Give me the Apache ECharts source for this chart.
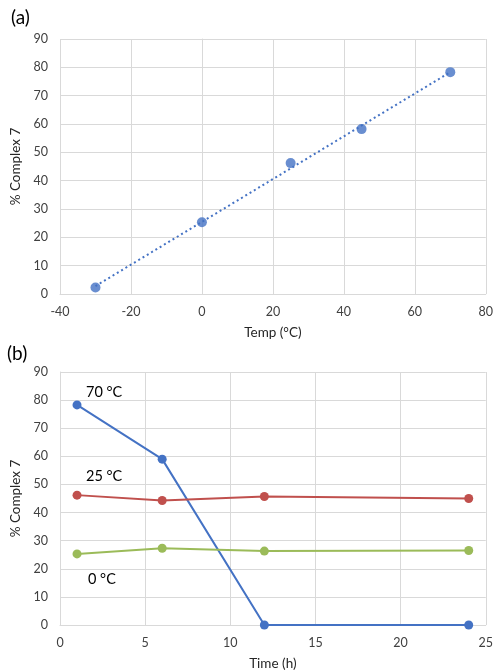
<!DOCTYPE html>
<html>
<head>
<meta charset="utf-8">
<script src="https://cdn.jsdelivr.net/npm/echarts@6/dist/echarts.min.js"></script>
<style>
html,body{margin:0;padding:0;background:#fff;}
#c{width:496px;height:672px;}
</style>
</head>
<body>
<div id="c"></div>
<script>
// Panel (a): % Complex 7 vs temperature
var tempC = [-30, 0, 25, 45, 70];
var complexVsTemp = [2.3, 25.3, 46.2, 58.2, 78.3];
var trendX = [-30, 70];
var trendY = [2.8, 78.3];

// Panel (b): % Complex 7 vs time
var timeH = [1, 6, 12, 24];
var series70 = [78.3, 59.0, 0, 0];
var series25 = [46.2, 44.3, 45.7, 45.0];
var series0 = [25.3, 27.3, 26.3, 26.5];
var seriesNames = ['70 °C', '25 °C', '0 °C'];

function pairs(xs, ys) { return xs.map(function (x, i) { return [x, ys[i]]; }); }

var FONT = 'Lato';
var tickStyle = { color: '#404040', fontSize: 12.5, fontFamily: FONT };
var titleStyle = { color: '#262626', fontSize: 13.5, fontFamily: FONT };
var gridLine = { show: true, lineStyle: { color: '#d9d9d9', width: 1 } };

function xAxis(idx, min, max, interval, name) {
  return {
    type: 'value', gridIndex: idx, min: min, max: max, interval: interval,
    name: name, nameLocation: 'middle', nameGap: 32, nameTextStyle: titleStyle,
    axisLine: { show: true, lineStyle: { color: '#d9d9d9' } },
    axisTick: { show: false }, axisLabel: Object.assign({ margin: 11 }, tickStyle),
    splitLine: gridLine
  };
}
function yAxis(idx) {
  return {
    type: 'value', gridIndex: idx, min: 0, max: 90, interval: 10,
    name: '% Complex 7', nameLocation: 'middle', nameGap: 32, nameTextStyle: titleStyle,
    axisLine: { show: true, lineStyle: { color: '#d9d9d9' } },
    axisTick: { show: false }, axisLabel: Object.assign({ margin: 12 }, tickStyle),
    splitLine: gridLine
  };
}

var chart = echarts.init(document.getElementById('c'));
chart.setOption({
  animation: false,
  backgroundColor: '#fff',
  grid: [
    { left: 60, top: 39, width: 429, height: 255 },
    { left: 60, top: 372, width: 428, height: 254 }
  ],
  xAxis: [xAxis(0, -40, 80, 20, 'Temp (°C)'), xAxis(1, 0, 25, 5, 'Time (h)')],
  yAxis: [yAxis(0), yAxis(1)],
  graphic: [
    { type: 'text', left: 11, top: 8, style: { text: '(a)', fontSize: 19, fontFamily: FONT, fill: '#000' } },
    { type: 'text', left: 7, top: 344, style: { text: '(b)', fontSize: 19, fontFamily: FONT, fill: '#000' } },
    { type: 'text', left: 86, top: 385, style: { text: seriesNames[0], fontSize: 14.5, fontFamily: FONT, fill: '#000' } },
    { type: 'text', left: 86, top: 469, style: { text: seriesNames[1], fontSize: 14.5, fontFamily: FONT, fill: '#000' } },
    { type: 'text', left: 88, top: 572, style: { text: seriesNames[2], fontSize: 14.5, fontFamily: FONT, fill: '#000' } }
  ],
  series: [
    {
      type: 'line', xAxisIndex: 0, yAxisIndex: 0, data: pairs(trendX, trendY),
      showSymbol: false, symbol: 'none',
      lineStyle: { color: '#4472C4', width: 2, type: [2, 3] }, z: 1
    },
    {
      type: 'scatter', xAxisIndex: 0, yAxisIndex: 0, data: pairs(tempC, complexVsTemp),
      symbolSize: 10, itemStyle: { color: '#4472C4' }, z: 2
    },
    {
      name: seriesNames[0], type: 'line', xAxisIndex: 1, yAxisIndex: 1, data: pairs(timeH, series70),
      symbol: 'circle', symbolSize: 9, lineStyle: { color: '#4472C4', width: 2 }, itemStyle: { color: '#4472C4' }
    },
    {
      name: seriesNames[1], type: 'line', xAxisIndex: 1, yAxisIndex: 1, data: pairs(timeH, series25),
      symbol: 'circle', symbolSize: 9, lineStyle: { color: '#C0504D', width: 2 }, itemStyle: { color: '#C0504D' }
    },
    {
      name: seriesNames[2], type: 'line', xAxisIndex: 1, yAxisIndex: 1, data: pairs(timeH, series0),
      symbol: 'circle', symbolSize: 9, lineStyle: { color: '#9BBB59', width: 2 }, itemStyle: { color: '#9BBB59' }
    }
  ]
});
</script>
</body>
</html>
